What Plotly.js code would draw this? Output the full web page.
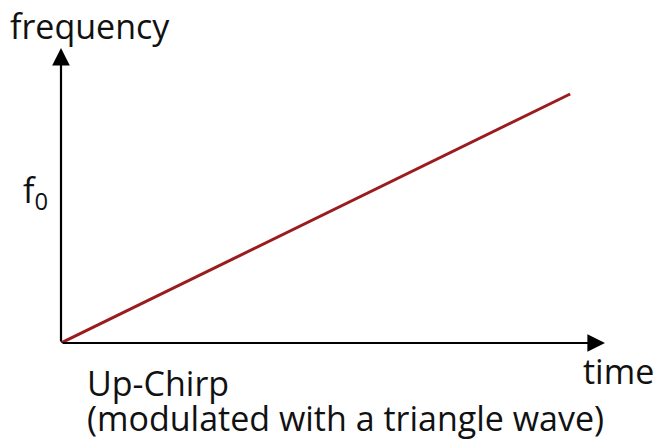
<!DOCTYPE html>
<html>
<head>
<meta charset="utf-8">
<script src="https://cdn.plot.ly/plotly-3.0.1.min.js"></script>
<style>html,body{margin:0;padding:0;background:#fff;}#chart{width:656px;height:447px;}</style>
</head>
<body>
<div id="chart"></div>
<script>
const time = [0, 0.936];
const frequency = [0, 0.844];
const yTickVals = [0.515];
const yTickText = ['f<sub>0</sub>'];
const xLabel = 'time';
const yLabel = 'frequency';
const captionLines = ['Up-Chirp', '(modulated with a triangle wave)'];

const FONT = 'Open Sans, Liberation Sans, sans-serif';
const TXT = '#111111';
const FS = 34;

const data = [{
  x: time, y: frequency, type: 'scatter', mode: 'lines',
  line: {color: '#9b1c1f', width: 3}, hoverinfo: 'skip'
}];

const layout = {
  width: 656, height: 447,
  margin: {l: 61, r: 51, t: 48, b: 104, pad: 0},
  paper_bgcolor: '#fff', plot_bgcolor: '#fff',
  showlegend: false,
  font: {family: FONT, color: TXT},
  xaxis: {range: [0, 1], showgrid: false, zeroline: false, showline: false,
          showticklabels: false, ticks: '', fixedrange: true},
  yaxis: {range: [0, 1], showgrid: false, zeroline: false, showline: false,
          tickvals: yTickVals, ticktext: yTickText, ticks: '',
          tickfont: {size: FS, family: FONT, color: TXT}, ticklabelstandoff: 12, fixedrange: true},
  annotations: [
    {x: 1, y: 0, ax: 0, ay: 0, xref: 'x', yref: 'y', axref: 'x', ayref: 'y',
     text: '', showarrow: true, arrowhead: 2, arrowsize: 1.6, arrowwidth: 2.2, arrowcolor: '#000', standoff: 0},
    {x: 0, y: 1, ax: 0, ay: 0, xref: 'x', yref: 'y', axref: 'x', ayref: 'y',
     text: '', showarrow: true, arrowhead: 2, arrowsize: 1.6, arrowwidth: 2.2, arrowcolor: '#000', standoff: 0},
    {x: -0.098, y: 1.159, xref: 'paper', yref: 'paper', xanchor: 'left', yanchor: 'top',
     text: yLabel, showarrow: false, font: {size: FS, family: FONT, color: TXT}},
    {x: 0.955, y: -0.01, xref: 'paper', yref: 'paper', xanchor: 'left', yanchor: 'top',
     text: xLabel, showarrow: false, font: {size: FS, family: FONT, color: TXT}},
    {x: 0.044, y: -0.051, xref: 'paper', yref: 'paper', xanchor: 'left', yanchor: 'top',
     text: captionLines[0], showarrow: false, font: {size: FS, family: FONT, color: TXT}},
    {x: 0.044, y: -0.169, xref: 'paper', yref: 'paper', xanchor: 'left', yanchor: 'top',
     text: captionLines[1], showarrow: false, font: {size: FS, family: FONT, color: TXT}}
  ]
};

Plotly.newPlot('chart', data, layout, {displayModeBar: false, staticPlot: true});
</script>
</body>
</html>
